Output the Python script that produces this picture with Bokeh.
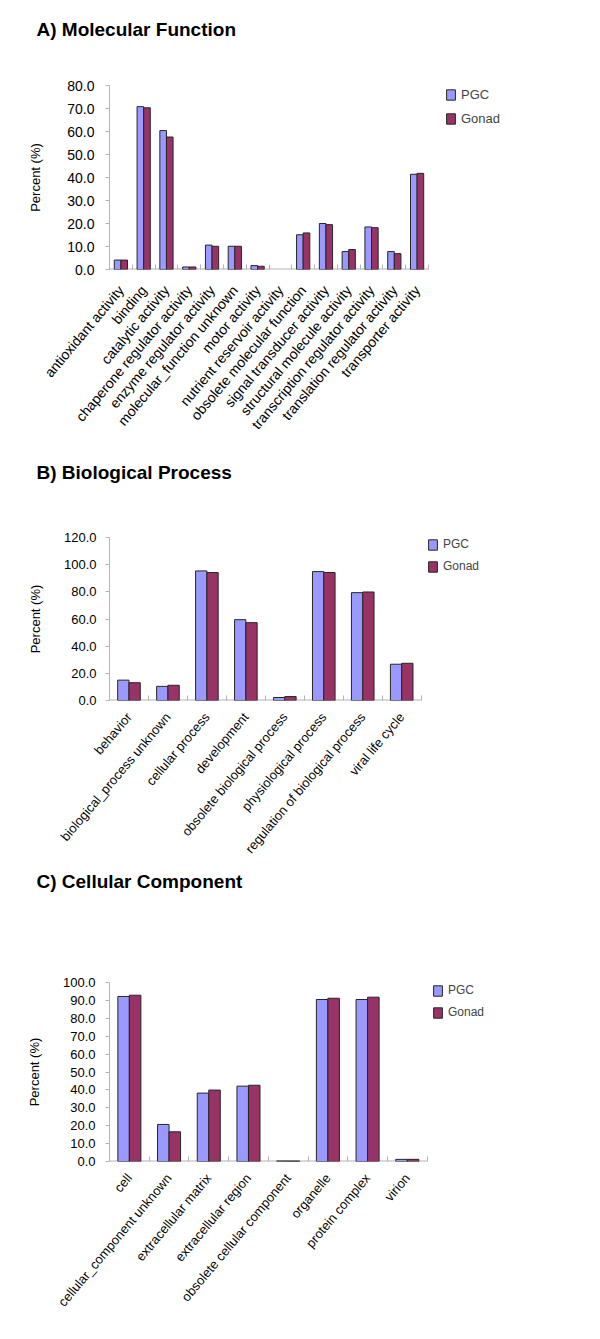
import math
from bokeh.plotting import figure
from bokeh.models import (ColumnDataSource, Range1d, FixedTicker, SingleIntervalTicker,
                          NumeralTickFormatter, Legend, LegendItem)
from bokeh.transform import dodge
from bokeh.layouts import column
from bokeh.embed import file_html
from bokeh.resources import INLINE

# ---------------- data ----------------
mf_title = "A) Molecular Function"
mf_categories = ["antioxidant activity", "binding", "catalytic activity",
                 "chaperone regulator activity", "enzyme regulator activity",
                 "molecular_function unknown", "motor activity",
                 "nutrient reservoir activity", "obsolete molecular function",
                 "signal transducer activity", "structural molecule activity",
                 "transcription regulator activity", "translation regulator activity",
                 "transporter activity"]
mf_pgc = [4.1, 70.8, 60.4, 1.1, 10.6, 10.1, 1.7, 0.0, 15.1, 20.0, 7.8, 18.5, 7.8, 41.4]
mf_gonad = [4.1, 70.3, 57.6, 1.1, 10.1, 10.1, 1.4, 0.0, 15.9, 19.5, 8.7, 18.2, 6.9, 41.8]

bp_title = "B) Biological Process"
bp_categories = ["behavior", "biological_process unknown", "cellular process",
                 "development", "obsolete biological process", "physiological process",
                 "regulation of biological process", "viral life cycle"]
bp_pgc = [15.0, 10.4, 95.4, 59.5, 2.2, 94.9, 79.4, 26.7]
bp_gonad = [13.1, 11.2, 94.2, 57.3, 2.9, 94.2, 79.9, 27.4]

cc_title = "C) Cellular Component"
cc_categories = ["cell", "cellular_component unknown", "extracellular matrix",
                 "extracellular region", "obsolete cellular component", "organelle",
                 "protein complex", "virion"]
cc_pgc = [92.2, 20.7, 38.2, 42.1, 0.3, 90.5, 90.5, 1.2]
cc_gonad = [92.9, 16.6, 39.9, 42.6, 0.3, 91.2, 91.8, 1.2]

series_names = ["PGC", "Gonad"]
series_colors = ["#9999FF", "#993366"]

FONT = "Liberation Sans"
AXIS_GREY = "#b4b4b4"
W = 584
FRAME_RIGHT = 580


def title_fig(text, h, standoff, offset):
    t = figure(width=W, height=h, title=text, toolbar_location=None,
               output_backend="svg", x_range=Range1d(0, 1), y_range=Range1d(0, 1),
               min_border_top=0, min_border_bottom=0, min_border_left=0,
               min_border_right=0)
    t.axis.visible = False
    t.grid.visible = False
    t.outline_line_color = None
    t.title.align = "left"
    t.title.offset = offset
    t.title.standoff = standoff
    t.title.text_font = FONT
    t.title.text_font_size = "19px"
    t.title.text_font_style = "bold"
    t.title.text_color = "black"
    return t


def panel(cats, pgc, gonad, ymax, ystep, h, top, bottom, left, axis_right,
          tick_fs, xlab_fs, leg_fs, ylab_fs, leg_xy, leg_spacing,
          ytick_standoff, ylab_standoff, xlab_standoff):
    n = len(cats)
    # the frame is wider than the category axis so that the legend fits inside it
    x_end = -0.5 + n * (FRAME_RIGHT - left) / (axis_right - left)
    src = ColumnDataSource(dict(
        x=list(range(n)), pgc=pgc, gonad=gonad,
        pgc_la=[1 if v > 0 else 0 for v in pgc],
        gonad_la=[1 if v > 0 else 0 for v in gonad]))
    p = figure(width=W, height=h, x_range=Range1d(-0.5, x_end),
               y_range=Range1d(0, ymax), output_backend="svg",
               toolbar_location=None, min_border_top=top,
               min_border_bottom=bottom, min_border_left=left,
               min_border_right=W - FRAME_RIGHT)
    p.outline_line_color = None
    p.grid.visible = False

    # category axis base line
    p.segment(x0=[-0.5], y0=[0], x1=[n - 0.5], y1=[0], line_color=AXIS_GREY,
              line_width=2)

    r1 = p.vbar(x=dodge("x", -0.145, range=p.x_range), top="pgc", width=0.29,
                source=src, fill_color=series_colors[0], line_color="#262626",
                line_alpha="pgc_la", line_width=1)
    r2 = p.vbar(x=dodge("x", 0.145, range=p.x_range), top="gonad", width=0.29,
                source=src, fill_color=series_colors[1], line_color="#262626",
                line_alpha="gonad_la", line_width=1)

    # y axis
    ya = p.yaxis[0]
    ya.ticker = SingleIntervalTicker(interval=ystep)
    ya.formatter = NumeralTickFormatter(format="0.0")
    ya.axis_line_color = AXIS_GREY
    ya.major_tick_line_color = AXIS_GREY
    ya.major_tick_out = 4
    ya.major_tick_in = 0
    ya.minor_tick_line_color = None
    ya.major_label_standoff = ytick_standoff
    ya.major_label_text_font = FONT
    ya.major_label_text_font_size = tick_fs
    ya.major_label_text_color = "black"
    ya.axis_label = "Percent (%)"
    ya.axis_label_text_font = FONT
    ya.axis_label_text_font_size = ylab_fs
    ya.axis_label_text_font_style = "normal"
    ya.axis_label_text_color = "black"
    ya.axis_label_standoff = ylab_standoff

    # x axis: labels at category centres, small ticks at category boundaries
    xa = p.xaxis[0]
    xa.ticker = FixedTicker(ticks=list(range(n)),
                            minor_ticks=[i - 0.5 for i in range(n + 1)])
    xa.major_label_overrides = {i: c for i, c in enumerate(cats)}
    xa.major_tick_line_color = None
    xa.major_tick_out = 0
    xa.major_tick_in = 0
    xa.minor_tick_line_color = AXIS_GREY
    xa.minor_tick_in = 5
    xa.minor_tick_out = 0
    xa.axis_line_color = None
    xa.major_label_orientation = math.radians(50)
    xa.major_label_standoff = xlab_standoff
    xa.major_label_text_font = FONT
    xa.major_label_text_font_size = xlab_fs
    xa.major_label_text_color = "black"

    legend = Legend(items=[LegendItem(label=series_names[0], renderers=[r1]),
                           LegendItem(label=series_names[1], renderers=[r2])],
                    location=leg_xy, padding=0, margin=0, spacing=leg_spacing,
                    glyph_width=11, glyph_height=13, label_height=13,
                    label_standoff=5, border_line_color=None,
                    background_fill_alpha=0, label_text_font=FONT,
                    label_text_font_size=leg_fs)
    p.add_layout(legend, "center")
    return p


ta = title_fig(mf_title, 62, 32, -73)
pa = panel(mf_categories, mf_pgc, mf_gonad, 80, 10, 388, 23, 181,
           109, 428, "14px", "14px", "13px", "13px", (336, 143), 9, 11, 21, 18)
tb = title_fig(bp_title, 50, 18, -73)
pb = panel(bp_categories, bp_pgc, bp_gonad, 120, 20, 366, 37, 166,
           107, 420, "13px", "13px", "12px", "13px", (318, 127), 8, 9, 18, 14)
tc = title_fig(cc_title, 44, 4, -73)
pc = panel(cc_categories, cc_pgc, cc_gonad, 100, 10, 421, 72, 170,
           107, 426, "13px", "13px", "12px", "13px", (323, 142), 8, 10, 18, 14)

layout = column(ta, pa, tb, pb, tc, pc, spacing=0)
open("out.html", "w").write(file_html(layout, INLINE))
